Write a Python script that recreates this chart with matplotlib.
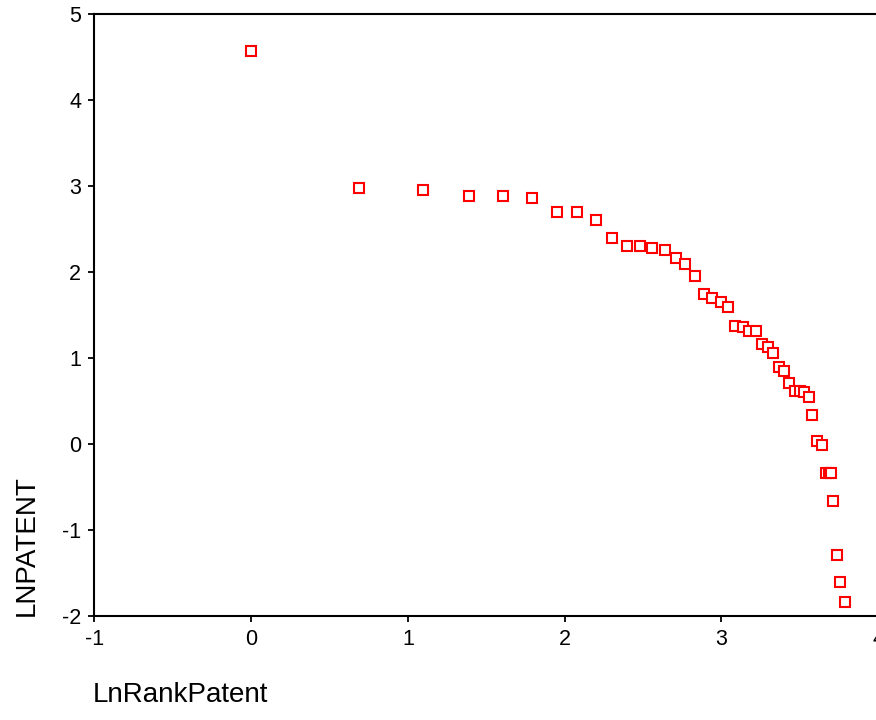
import matplotlib
matplotlib.use("Agg")
import matplotlib.pyplot as plt

plt.rcParams['font.family'] = ['Liberation Sans', 'DejaVu Sans']
plt.rcParams['axes.unicode_minus'] = False

# log of rank (x) and log of patent count (y)
ln_rank = [0.00, 0.69, 1.10, 1.39, 1.61, 1.79, 1.95, 2.08, 2.20, 2.30,
           2.40, 2.48, 2.56, 2.64, 2.71, 2.77, 2.83, 2.89, 2.94, 3.00,
           3.04, 3.09, 3.14, 3.18, 3.22, 3.26, 3.30, 3.33, 3.37, 3.40,
           3.43, 3.47, 3.50, 3.53, 3.56, 3.58, 3.61, 3.64, 3.67, 3.69,
           3.70, 3.71, 3.74, 3.76, 3.79]
ln_patent = [4.57, 2.98, 2.95, 2.88, 2.88, 2.86, 2.70, 2.70, 2.60, 2.40,
             2.30, 2.30, 2.28, 2.26, 2.16, 2.09, 1.95, 1.74, 1.70, 1.65,
             1.59, 1.37, 1.36, 1.31, 1.31, 1.16, 1.13, 1.06, 0.90, 0.85,
             0.71, 0.62, 0.62, 0.60, 0.55, 0.34, 0.04, -0.01, -0.34, -0.34,
             -0.34, -0.66, -1.29, -1.61, -1.84]

x_ticks = [-1, 0, 1, 2, 3, 4]
y_ticks = [-2, -1, 0, 1, 2, 3, 4, 5]

fig = plt.figure(figsize=(8.76, 7.2), dpi=100)
ax = fig.add_axes([0.1077, 0.1444, 0.8946, 0.8361])

ax.plot(ln_rank, ln_patent, linestyle='none', marker='s', markersize=6.8,
        markerfacecolor='white', markeredgecolor='#ff0000', markeredgewidth=1.5,
        clip_on=False)

ax.set_xlim(-1, 4)
ax.set_ylim(-2, 5)
ax.set_xticks(x_ticks)
ax.set_yticks(y_ticks)
ax.tick_params(direction='out', length=4.5, width=1.3, labelsize=15.5, pad=5,
               colors='black')
for s in ax.spines.values():
    s.set_linewidth(1.5)
    s.set_color('black')

fig.text(0.106, 0.017, 'LnRankPatent', fontsize=20, ha='left', va='bottom')
fig.text(0.016, 0.144, 'LNPATENT', fontsize=20, rotation=90, ha='left', va='bottom')

fig.savefig('out.png', dpi=100)
